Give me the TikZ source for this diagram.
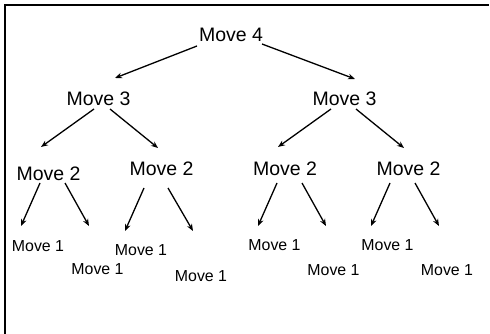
\documentclass[tikz,border=0pt]{standalone}
\usepackage{fontspec}
\setmainfont{Liberation Sans}
\usetikzlibrary{arrows.meta}
\begin{document}
\begin{tikzpicture}[x=1pt,y=-1pt,
  big/.style={inner sep=0pt,font=\fontsize{19.5}{20}\selectfont},
  small/.style={inner sep=0pt,font=\fontsize{15.9}{17}\selectfont},
  arr/.style={line width=1.3pt,-{Stealth[length=7pt,width=5.5pt]}},
  frame/.style={line width=2pt}]
\fill[white] (0,0) rectangle (490,334);
\useasboundingbox (0,0) rectangle (490,334);
\coordinate (fl) at (5,334);
\coordinate (fc) at (5,5);
\coordinate (fr) at (489,5);
\draw[frame] (fl) -- (fc) -- (fr);
% nodes
\node[big] (m4) at (231,35) {Move 4};
\node[big] (m3a) at (98.5,99) {Move 3};
\node[big] (m3b) at (344.5,99) {Move 3};
\node[big] (m2a) at (48.5,174) {Move 2};
\node[big] (m2b) at (161.5,168.5) {Move 2};
\node[big] (m2c) at (285,168.5) {Move 2};
\node[big] (m2d) at (408.5,168.5) {Move 2};
\node[small] (m1a) at (38,246) {Move 1};
\node[small] (m1b) at (97.5,269.5) {Move 1};
\node[small] (m1c) at (141,250) {Move 1};
\node[small] (m1d) at (201,276) {Move 1};
\node[small] (m1e) at (274.5,245.5) {Move 1};
\node[small] (m1f) at (333.5,270) {Move 1};
\node[small] (m1g) at (387.5,245.5) {Move 1};
\node[small] (m1h) at (447,270) {Move 1};
% arrow coordinates
\coordinate (s1) at (197,46);  \coordinate (e1) at (115,78);
\coordinate (s2) at (262,44);  \coordinate (e2) at (355,79);
\coordinate (s3) at (94,109);  \coordinate (e3) at (41,147);
\coordinate (s4) at (110,109); \coordinate (e4) at (158,148);
\coordinate (s5) at (331,109); \coordinate (e5) at (278,147);
\coordinate (s6) at (356,109); \coordinate (e6) at (404,148);
\coordinate (s7) at (40,183);  \coordinate (e7) at (21,226);
\coordinate (s8) at (65,183);  \coordinate (e8) at (89,226);
\coordinate (s9) at (144,188); \coordinate (e9) at (125,231);
\coordinate (s10) at (168,188); \coordinate (e10) at (193,231);
\coordinate (s11) at (277,183); \coordinate (e11) at (258,226);
\coordinate (s12) at (302,183); \coordinate (e12) at (326,226);
\coordinate (s13) at (390,183); \coordinate (e13) at (371,226);
\coordinate (s14) at (415,183); \coordinate (e14) at (439,226);
\foreach \i in {1,...,14} { \draw[arr] (s\i) -- (e\i); }
\end{tikzpicture}
\end{document}
